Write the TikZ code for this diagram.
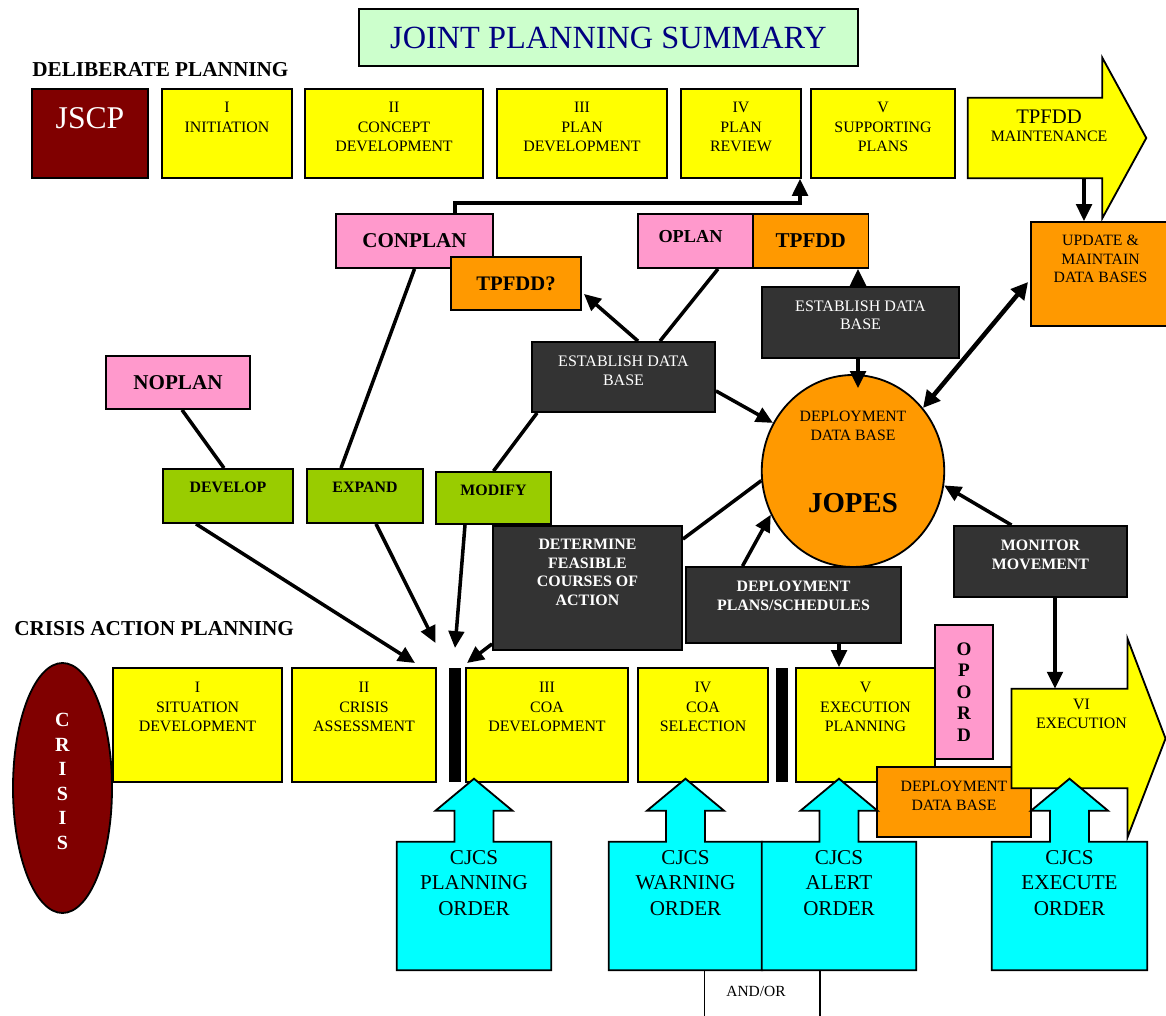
\documentclass[tikz,border=0pt]{standalone}
\usepackage{fontspec}
\setmainfont{Liberation Serif}
\usetikzlibrary{positioning,shapes.geometric,arrows.meta,calc}

\definecolor{ylw}{HTML}{FFFF00}
\definecolor{maroon}{HTML}{800000}
\definecolor{pnk}{HTML}{FF99CC}
\definecolor{orng}{HTML}{FF9900}
\definecolor{dgray}{HTML}{333333}
\definecolor{lgrn}{HTML}{99CC00}
\definecolor{cyn}{HTML}{00FFFF}
\definecolor{mint}{HTML}{CCFFCC}
\definecolor{navy}{HTML}{000080}

\newcommand{\fsz}[2]{\fontsize{#1}{#2}\selectfont}

\begin{document}
\begin{tikzpicture}[x=0.025cm, y=-0.025cm]
	\tikzset{
		bx/.style={draw=black, line width=1.3pt, inner sep=0pt},
		yb/.style={bx, fill=ylw},
		wh/.style 2 args={minimum width=#1*0.025cm, minimum height=#2*0.025cm},
		tx/.style={inner sep=0pt, align=center, font=\fsz{11.3}{13.9}},
		wtx/.style={tx, text=white, font=\fsz{11.4}{13.2}},
		btx/.style={tx, text=white, font=\bfseries\fsz{11.3}{13.2}},
		arr/.style={line width=2.5pt, -{Triangle[length=12pt,width=11pt]}},
		ln/.style={line width=2.5pt}
	}
	\path[use as bounding box, fill=white] (0,0) rectangle (1166,1016);

	% title and headings
	\node[bx, fill=mint, wh={499}{57}, text=navy, font=\fsz{23}{26}] (ttl) at (608.5,37.5) {JOINT PLANNING SUMMARY};
	\node[anchor=west, inner sep=0pt, font=\bfseries\fsz{15.1}{17}] (dlb) at (32,70) {DELIBERATE PLANNING};
	\node[anchor=west, inner sep=0pt, font=\bfseries\fsz{15.1}{17}] (cap) at (14,629) {CRISIS ACTION PLANNING};

	% deliberate planning row
	\node[bx, fill=maroon, wh={116}{89}] (jscp) at (90,133.5) {};
	\node[tx, text=white, font=\fsz{22.5}{26}, below=13.5pt of jscp.north] (jscpt) {JSCP};
	\node[yb, wh={130}{89}] (p1) at (227,133.5) {};
	\node[tx, below=10pt of p1.north] (p1t) {I\\INITIATION};
	\node[yb, wh={178}{89}] (p2) at (394,133.5) {};
	\node[tx, below=10pt of p2.north] (p2t) {II\\CONCEPT\\DEVELOPMENT};
	\node[yb, wh={170}{89}] (p3) at (582,133.5) {};
	\node[tx, below=10pt of p3.north] (p3t) {III\\PLAN\\DEVELOPMENT};
	\node[yb, wh={120}{89}] (p4) at (741,133.5) {};
	\node[tx, below=10pt of p4.north] (p4t) {IV\\PLAN\\REVIEW};
	\node[yb, wh={144}{89}] (p5) at (883,133.5) {};
	\node[tx, below=10pt of p5.north] (p5t) {V\\SUPPORTING\\PLANS};

	\node[inner sep=0pt, wh={134}{80}] (tpm) at (1035,138) {};
	\draw[bx, fill=ylw] (tpm.south west) -- (tpm.north west) -- (tpm.north east) -- ++(0,-40)
		-- ($(tpm.east)+(44,0)$) -- ($(tpm.south east)+(0,40)$) -- (tpm.south east) -- cycle;
	\node[tx, font=\fsz{11.3}{13.1}, below=8.5pt of tpm.north, xshift=10pt] (tpmt) {{\fsz{14.7}{13.1}TPFDD}\\MAINTENANCE};

	% plans and data bases
	\node[bx, fill=pnk, wh={157}{54}, font=\bfseries\fsz{15}{17}] (conp) at (414.5,241) {CONPLAN};
	\node[bx, fill=orng, wh={130}{53}, font=\bfseries\fsz{14.7}{17}] (tpq) at (516,283.5) {TPFDD?};
	\node[bx, fill=pnk, wh={115}{54}] (opl) at (695.5,241) {};
	\node[tx, font=\bfseries\fsz{13}{15}] (oplt) at (690.5,237) {OPLAN};
	\node[bx, fill=orng, wh={115.5}{54}, font=\bfseries\fsz{15}{17}] (tpf) at (810.75,241) {TPFDD};
	\node[bx, fill=orng, wh={139}{104}] (upd) at (1100.5,274) {};
	\node[tx, font=\fsz{11.2}{13}, below=10pt of upd.north] (updt) {UPDATE \&\\MAINTAIN\\DATA BASES};
	\node[bx, fill=dgray, wh={183}{70}] (est1) at (623.5,377) {};
	\node[wtx, below=10.5pt of est1.north] (est1t) {ESTABLISH DATA\\BASE};
	\node[bx, fill=dgray, wh={197}{71}] (est2) at (860.5,322.5) {};
	\node[wtx, below=10pt of est2.north] (est2t) {ESTABLISH DATA\\BASE};
	\node[bx, fill=pnk, wh={144}{53}, font=\bfseries\fsz{15}{17}] (nopl) at (178,382.5) {NOPLAN};

	\node[bx, fill=orng, ellipse, wh={182.5}{192}] (jopes) at (853,471) {};
	\node[tx, font=\fsz{11.2}{13.5}, below=26pt of jopes.north] (jopest) {DEPLOYMENT\\DATA BASE};
	\node[tx, font=\bfseries\fsz{20.5}{24}, below=15.4pt of jopes.center] (jopesb) {JOPES};

	\node[bx, fill=lgrn, wh={130}{54}] (dev) at (228,496) {};
	\node[tx, font=\bfseries\fsz{11.3}{13}, below=10pt of dev.north] (devt) {DEVELOP};
	\node[bx, fill=lgrn, wh={116}{54}] (exp) at (365,496) {};
	\node[tx, font=\bfseries\fsz{11.3}{13}, below=10pt of exp.north] (expt) {EXPAND};
	\node[bx, fill=lgrn, wh={115}{52}] (mod) at (493.5,498) {};
	\node[tx, font=\bfseries\fsz{11.3}{13}, below=10pt of mod.north] (modt) {MODIFY};

	\node[bx, fill=dgray, wh={189}{124}] (det) at (587.5,588) {};
	\node[btx, below=10pt of det.north] (dett) {DETERMINE\\FEASIBLE\\COURSES OF\\ACTION};
	\node[bx, fill=dgray, wh={215}{76}] (dps) at (793.5,605) {};
	\node[btx, font=\bfseries\fsz{11.3}{13.5}, below=10.5pt of dps.north] (dpst) {DEPLOYMENT\\PLANS/SCHEDULES};
	\node[bx, fill=dgray, wh={173}{71}] (mon) at (1040.5,561.5) {};
	\node[btx, font=\bfseries\fsz{11.3}{13.5}, below=10.5pt of mon.north] (mont) {MONITOR\\MOVEMENT};

	% crisis action planning row
	\node[bx, fill=maroon, ellipse, wh={99}{250}] (crs) at (62.5,788) {};
	\node[tx, text=white, font=\bfseries\fsz{14.3}{17.5}] (crst) at (62.5,781.5) {C\\R\\I\\S\\I\\S};
	\node[yb, wh={169}{114}] (c1) at (197.5,725) {};
	\node[tx, below=10.7pt of c1.north] (c1t) {I\\SITUATION\\DEVELOPMENT};
	\node[yb, wh={144}{114}] (c2) at (364,725) {};
	\node[tx, below=10.7pt of c2.north] (c2t) {II\\CRISIS\\ASSESSMENT};
	\node[fill=black, inner sep=0pt, wh={12}{114}] (br1) at (455,725) {};
	\node[yb, wh={162}{114}] (c3) at (547,725) {};
	\node[tx, below=10.7pt of c3.north] (c3t) {III\\COA\\DEVELOPMENT};
	\node[yb, wh={130}{114}] (c4) at (703,725) {};
	\node[tx, below=10.7pt of c4.north] (c4t) {IV\\COA\\SELECTION};
	\node[fill=black, inner sep=0pt, wh={12}{114}] (br2) at (782,725) {};
	\node[yb, wh={139}{114}] (c5) at (865.5,725) {};
	\node[tx, below=10.7pt of c5.north] (c5t) {V\\EXECUTION\\PLANNING};
	\node[bx, fill=pnk, wh={58}{134}, align=center, font=\bfseries\fsz{13.6}{15.3}] (opd) at (964,692) {O\\P\\O\\R\\D};
	\node[bx, fill=orng, wh={153.5}{70}] (ddb) at (954,802) {};
	\node[tx, font=\fsz{11.2}{13.5}, below=10.7pt of ddb.north] (ddbt) {DEPLOYMENT\\DATA BASE};

	\node[inner sep=0pt, wh={115.5}{99}] (vi) at (1069.5,738.5) {};
	\draw[bx, fill=ylw] (vi.south west) -- (vi.north west) -- (vi.north east) -- ++(0,-50)
		-- ($(vi.east)+(38,0)$) -- ($(vi.south east)+(0,49)$) -- (vi.south east) -- cycle;
	\node[tx, below=7pt of vi.north, xshift=8.5pt] (vit) {VI\\EXECUTION};

	% CJCS orders
	\foreach \nm/\cx/\w/\lbl in {plo/474/154/PLANNING, wo/685.5/153/WARNING, ao/839/154/ALERT, eo/1069.5/155/EXECUTE}{
		\node[inner sep=0pt, wh={\w}{128}] (\nm) at (\cx,906) {};
		\draw[bx, fill=cyn] (\nm.south west) -- (\nm.north west) -- ($(\nm.north)+(-19.5,0)$) -- ++(0,-31) -- ++(-19,0)
			-- ($(\nm.north)+(0,-63)$) -- ($(\nm.north)+(38.5,-31)$) -- ++(-19,0) -- ++(0,31)
			-- (\nm.north east) -- (\nm.south east) -- cycle;
		\node[tx, font=\fsz{15}{17.8}, below=6.4pt of \nm.north] (t\nm) {CJCS\\\lbl\\ORDER};
	}
	\coordinate (aol) at (704.5,1016);
	\coordinate (aor) at (820,1016);
	\draw[line width=1.3pt] (wo.south -| aol) -- (aol);
	\draw[line width=1.3pt] (ao.south -| aor) -- (aor);
	\node[tx, font=\fsz{11}{13}] (andor) at (756,991) {AND/OR};

	% connectors
	\coordinate (k1) at (455,203);
	\coordinate (k2) at (800,203);
	\draw[arr] (conp.north -| k1) -- (k1) -- (k2) -- (p4.south -| k2);

	\draw[ln] (conp.south) -- ($(exp.north)+(-24,0)$);
	\draw[ln] ($(nopl.south)+(4,0)$) -- ($(dev.north)+(-4,0)$);
	\draw[ln] ($(opl.south)+(22.5,0)$) -- ($(est1.north)+(36.5,0)$);
	\draw[ln] (mod.north) -- ($(est1.south west)+(6,0)$);
	\draw[arr] ($(est1.north)+(14.5,0)$) -- ($(tpq.south east)+(2,-17)$);

	\coordinate (ax) at (858,0);
	\draw[arr] (est2.north -| ax) -- (tpf.south -| ax);
	\draw[arr, shorten >=-0.35cm] (est2.south -| ax) -- (jopes.north -| ax);
	\draw[arr] ($(est1.south east)+(0,-22)$) -- (jopes.149);
	\draw[line width=3.2pt, {Triangle[length=12pt,width=12pt]}-{Triangle[length=12pt,width=12pt]}] (jopes.42) -- ($(upd.west)+(-2,8)$);
	\draw[ln] ($(det.north east)+(0,14)$) -- (jopes.186);
	\draw[arr] ($(dps.north)+(-51,0)$) -- (jopes.208);
	\draw[arr] ($(mon.north)+(-29,0)$) -- (jopes.351);

	\coordinate (ay) at (1055,0);
	\draw[arr] (mon.south -| ay) -- (vi.north -| ay);
	\coordinate (az) at (1084,0);
	\draw[arr] (tpm.south -| az) -- (upd.north -| az);
	\coordinate (aw) at (839,0);
	\draw[arr] (dps.south -| aw) -- (c5.north -| aw);

	\coordinate (g1) at (415,663);
	\coordinate (g2) at (435.5,643);
	\coordinate (g3) at (455,648);
	\coordinate (g4) at (467,663);
	\draw[arr] ($(dev.south)+(-32,0)$) -- (g1);
	\draw[arr] ($(exp.south)+(11,0)$) -- (g2);
	\draw[arr] ($(mod.south)+(-28.5,0)$) -- (g3);
	\draw[arr] ($(det.south west)+(0,-7)$) -- (g4);

\end{tikzpicture}
\end{document}
